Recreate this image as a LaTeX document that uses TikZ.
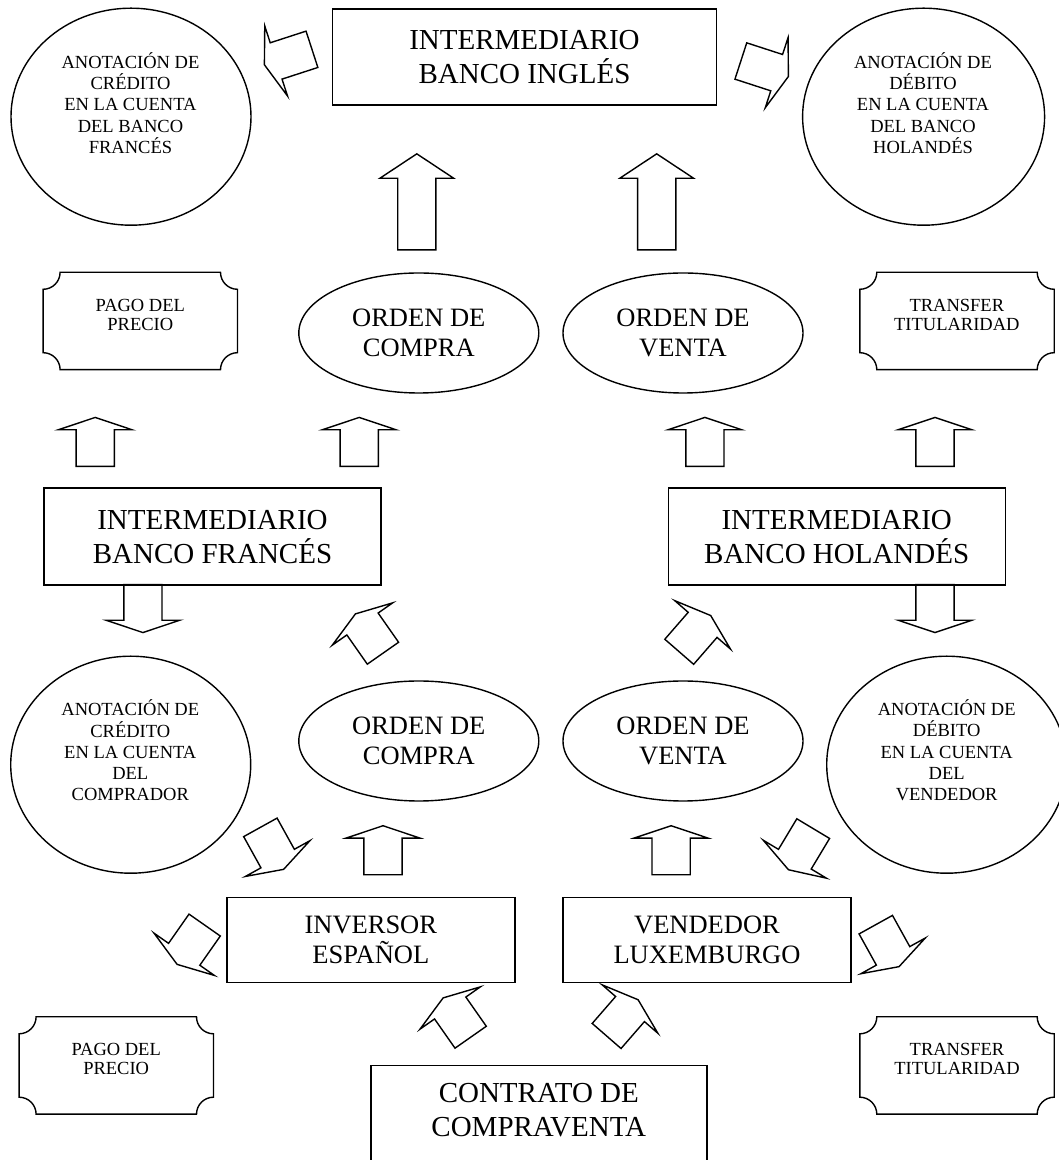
\documentclass[tikz,border=0pt]{standalone}
\usepackage{fontspec}
\setmainfont{Liberation Serif}
\usetikzlibrary{shapes.geometric,shapes.arrows}
\tikzstyle{block} = [rectangle, draw, line width=1.4pt, inner sep=0pt, align=center]
\tikzstyle{cloud} = [ellipse, draw, line width=1.4pt, inner sep=0pt, align=center]
\tikzstyle{bubble} = [cloud, minimum width=240pt, minimum height=217pt]
\tikzstyle{orden} = [cloud, midtext, minimum width=240pt, minimum height=120pt]
\tikzstyle{note} = [rectangle, inner sep=0pt, minimum width=194pt, minimum height=97pt]
\tikzstyle{bigtext} = [font=\fontsize{29}{34}\selectfont, align=center]
\tikzstyle{midtext} = [font=\fontsize{26.5}{30}\selectfont, align=center]
\tikzstyle{smalltext} = [font=\fontsize{18.5}{21.3}\selectfont, align=center]
\tikzstyle{notetext} = [font=\fontsize{18.5}{19}\selectfont, align=center]
\tikzstyle{blockarrow} = [single arrow, draw, line width=1.4pt, inner xsep=0pt, inner ysep=18.4pt, minimum width=72.5pt, single arrow head extend=17.75pt, single arrow tip angle=143, minimum height=48pt, anchor=tip]
\tikzstyle{bigarrow} = [blockarrow, minimum height=96pt, single arrow tip angle=113]
% border with hollow corners, drawn round an empty node
\newcommand{\drawplaque}[1]{%
  \draw [line width=1.4pt] ([xshift=17pt]#1.north west) -- ([xshift=-17pt]#1.north east)
    arc [start angle=180, end angle=270, radius=17pt] -- ([yshift=17pt]#1.south east)
    arc [start angle=90, end angle=180, radius=17pt] -- ([xshift=17pt]#1.south west)
    arc [start angle=0, end angle=90, radius=17pt] -- ([yshift=-17pt]#1.north west)
    arc [start angle=270, end angle=360, radius=17pt] -- cycle;}
\begin{document}
\begin{tikzpicture}[x=1pt,y=1pt]
    \useasboundingbox (0,0) rectangle (1059,1160);
    \clip (0,0) rectangle (1059,1160);
    % top row
    \node [block, bigtext, minimum width=384pt, minimum height=96pt] (ingles) at (524.5,1103) {INTERMEDIARIO\\BANCO INGLÉS};
    \node [bubble] (credfr) at (131,1043.3) {};
    \node [smalltext] (credfr-txt) at (130.5,1057) {ANOTACIÓN DE\\CRÉDITO\\EN LA CUENTA\\DEL BANCO\\FRANCÉS};
    \node [bubble, minimum width=242pt] (debho) at (923.6,1043.3) {};
    \node [smalltext] (debho-txt) at (923,1057) {ANOTACIÓN DE\\DÉBITO\\EN LA CUENTA\\DEL BANCO\\HOLANDÉS};
    \node [bigarrow, rotate=90] (upcompra) at (416.8,1007) {};
    \node [bigarrow, rotate=90] (upventa) at (656.7,1007) {};
    \node [blockarrow, rotate=198, minimum height=50pt] (tocredfr) at (263.7,1095) {};
    \node [blockarrow, rotate=-18, minimum height=50pt] (todebho) at (789.1,1083.3) {};
    % second row
    \node [note] (pagoA) at (140.3,839) {};
    \node [notetext] (pagoA-txt) at (140.3,845.5) {PAGO DEL\\PRECIO};
    \node [orden] (compraA) at (418.8,827) {ORDEN DE\\COMPRA};
    \node [orden] (ventaA) at (683,827) {ORDEN DE\\VENTA};
    \node [note] (transfA) at (957,839) {};
    \node [notetext] (transfA-txt) at (956.8,845.5) {TRANSFER\\TITULARIDAD};
    \drawplaque{pagoA}
    \drawplaque{transfA}
    \node [blockarrow, rotate=90, minimum height=49pt] (uppagoA) at (95.2,743.3) {};
    \node [blockarrow, rotate=90, minimum height=49pt] (upcompraA) at (359.2,743.3) {};
    \node [blockarrow, rotate=90, minimum height=49pt] (upventaA) at (704.9,743.3) {};
    \node [blockarrow, rotate=90, minimum height=49pt] (uptransfA) at (935,743.3) {};
    % intermediaries
    \node [block, bigtext, minimum width=337pt, minimum height=97pt] (frances) at (212.5,623.3) {INTERMEDIARIO\\BANCO FRANCÉS};
    \node [block, bigtext, minimum width=337pt, minimum height=97pt] (holandes) at (836.7,623.3) {INTERMEDIARIO\\BANCO HOLANDÉS};
    \node [blockarrow, rotate=-90] (downfr) at (142.9,526.7) {};
    \node [blockarrow, rotate=-90] (downho) at (935,526.7) {};
    \node [blockarrow, rotate=125] (tofrances) at (355,546.7) {};
    \node [blockarrow, rotate=49] (toholandes) at (711.2,545) {};
    % third row
    \node [bubble] (credcomp) at (130.7,395.3) {};
    \node [smalltext] (credcomp-txt) at (130.3,409.5) {ANOTACIÓN DE\\CRÉDITO\\EN LA CUENTA\\DEL\\COMPRADOR};
    \node [orden] (compraB) at (418.8,419) {ORDEN DE\\COMPRA};
    \node [orden] (ventaB) at (683,419) {ORDEN DE\\VENTA};
    \node [bubble] (debvend) at (946.7,395.3) {};
    \node [smalltext] (debvend-txt) at (946.7,409.5) {ANOTACIÓN DE\\DÉBITO\\EN LA CUENTA\\DEL\\VENDEDOR};
    \node [blockarrow, rotate=90, minimum height=49pt] (upcompraB) at (383,335) {};
    \node [blockarrow, rotate=90, minimum height=49pt] (upventaB) at (671.1,335) {};
    \node [blockarrow, rotate=-61] (toinversor) at (284,290) {};
    \node [blockarrow, rotate=239] (tovendedor) at (788.1,289.6) {};
    % parties and contract
    \node [block, midtext, minimum width=288pt, minimum height=85pt] (inversor) at (370.8,220.2) {INVERSOR\\ESPAÑOL};
    \node [block, midtext, minimum width=288pt, minimum height=85pt] (vendedor) at (707,220.2) {VENDEDOR\\LUXEMBURGO};
    \node [blockarrow, rotate=235] (topagoB) at (176.7,195) {};
    \node [blockarrow, rotate=-61] (totransfB) at (899.4,192.7) {};
    \node [note] (pagoB) at (116.3,94.5) {};
    \node [notetext] (pagoB-txt) at (116.2,101) {PAGO DEL\\PRECIO};
    \node [note] (transfB) at (957,94.5) {};
    \node [notetext] (transfB-txt) at (957,101) {TRANSFER\\TITULARIDAD};
    \drawplaque{pagoB}
    \drawplaque{transfB}
    \node [block, minimum width=336pt, minimum height=110pt, anchor=north] (contrato) at (538.8,95) {};
    \node [bigtext] (contrato-txt) at (538.8,50) {CONTRATO DE\\COMPRAVENTA};
    \node [blockarrow, rotate=125] (upinversor) at (442.7,162.7) {};
    \node [blockarrow, rotate=49] (upvendedor) at (638.6,160.8) {};
\end{tikzpicture}
\end{document}
